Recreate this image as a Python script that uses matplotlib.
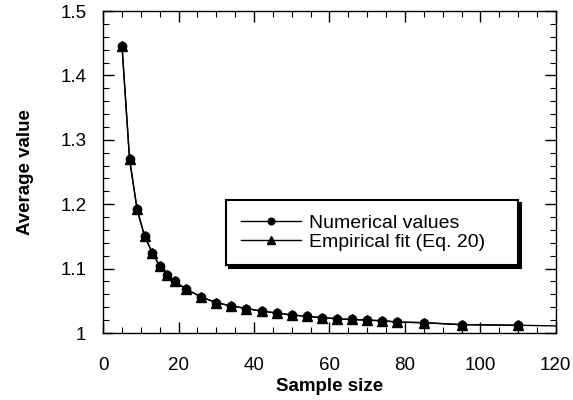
import numpy as np
import matplotlib
matplotlib.use("Agg")
import matplotlib.pyplot as plt
from matplotlib.ticker import MultipleLocator

# data
sample_size = [5, 7, 9, 11, 13, 15, 17, 19, 22, 26, 30, 34, 38, 42, 46, 50,
               54, 58, 62, 66, 70, 74, 78, 85, 95, 110]
numerical = [1.446, 1.270, 1.192, 1.150, 1.125, 1.104, 1.090, 1.080, 1.068,
             1.056, 1.047, 1.042, 1.038, 1.034, 1.031, 1.028, 1.026, 1.024,
             1.022, 1.021, 1.020, 1.019, 1.017, 1.016, 1.013, 1.012]
# empirical fit extends to the right edge
fit_x = sample_size + [120]
fit_y = numerical + [1.011]

y_ticks = [1.0, 1.1, 1.2, 1.3, 1.4, 1.5]
y_tick_labels = ['1', '1.1', '1.2', '1.3', '1.4', '1.5']

plt.rcParams['font.family'] = ['Liberation Sans', 'DejaVu Sans']

fig = plt.figure(figsize=(5.73, 4.0), dpi=100)
ax = fig.add_axes([0.18, 0.1675, 0.79, 0.805])

ax.plot(fit_x, fit_y, color='black', lw=1.0, marker='^', ms=6.5,
        markevery=list(range(len(sample_size))), label='Empirical fit (Eq. 20)', zorder=2)
ax.plot(sample_size, numerical, color='black', lw=1.0, marker='o', ms=6,
        label='Numerical values', zorder=3)

ax.set_xlim(0, 120)
ax.set_ylim(1.0, 1.5)
ax.xaxis.set_major_locator(MultipleLocator(20))
ax.xaxis.set_minor_locator(MultipleLocator(5))
ax.yaxis.set_minor_locator(MultipleLocator(0.02))
ax.set_yticks(y_ticks)
ax.set_yticklabels(y_tick_labels)

ax.tick_params(which='both', direction='in', top=True, right=True, labelsize=13.5)
ax.tick_params(which='major', length=8, width=1)
ax.tick_params(which='minor', length=4.5, width=0.8)
ax.tick_params(axis='x', pad=17)
ax.tick_params(axis='y', pad=12)
for s in ax.spines.values():
    s.set_linewidth(1.0)

ax.set_xlabel('Sample size', fontsize=13.5, fontweight='bold', labelpad=3.5)
ax.set_ylabel('Average value', fontsize=13.5, fontweight='bold', labelpad=19)

h, l = ax.get_legend_handles_labels()
leg = ax.legend(h[::-1], l[::-1], loc='upper left', mode='expand',
                bbox_to_anchor=(0.272, 0.208, 0.644, 0.205),
                fontsize=14, handlelength=3.1, markerscale=0.8, fancybox=False,
                shadow={'color': 'black', 'alpha': 1}, framealpha=1,
                edgecolor='black', borderpad=0.75, labelspacing=0.05,
                handletextpad=0.4, borderaxespad=0)
leg.get_frame().set_linewidth(1.5)

fig.savefig('out.png', dpi=100)
